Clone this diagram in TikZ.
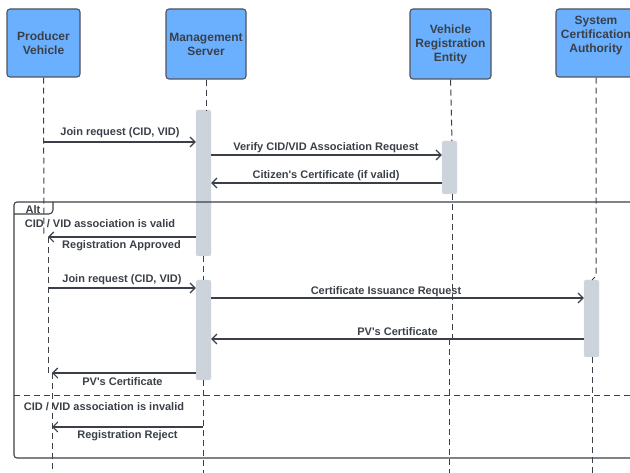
\documentclass[tikz,border=0pt]{standalone}
\usepackage{fontspec}
\setmainfont{Liberation Sans}
\usetikzlibrary{arrows.meta}
\definecolor{ink}{HTML}{3B4048}
\definecolor{actor}{HTML}{6AB0FF}
\definecolor{bar}{HTML}{CDD3DB}
\begin{document}
\begin{tikzpicture}[x=1pt,y=-1pt,
  actorbox/.style={draw=ink!90, fill=actor, rounded corners=3pt, line width=1.1pt,
    align=center, text=ink, inner sep=0pt, font=\bfseries\fontsize{12}{14}\selectfont},
  lifeline/.style={draw=ink, line width=1pt, dash pattern=on 6pt off 4pt},
  actbar/.style={fill=bar, draw=bar!70!white, rounded corners=2pt, minimum width=15pt, inner sep=0pt},
  msg/.style={draw=ink, line width=1.1pt, -{Straight Barb[length=5pt,width=10pt,line width=1.1pt]}},
  lbl/.style={text=ink, inner sep=0pt, yshift=-1.5pt, font=\bfseries\fontsize{11}{13}\selectfont},
  frame/.style={draw=ink, line width=1.1pt}]
\clip (0,0) rectangle (630,473);

% participants
\node[actorbox, minimum width=73pt, minimum height=68pt] (pv) at (43.5,43) {Producer\\Vehicle};
\node[actorbox, minimum width=80pt, minimum height=70pt] (ms) at (206,44) {Management\\Server};
\node[actorbox, minimum width=81pt, minimum height=70pt] (vre) at (450.5,44) {Vehicle\\Registration\\Entity};
\node[actorbox, minimum width=80pt, minimum height=68pt] (sca) at (596,43) {};
\node[text=ink, inner sep=0pt, align=center, font=\bfseries\fontsize{12}{14}\selectfont] (scat) at (596,36) {System\\Certification\\Authority};

% activation bars
\node[actbar, minimum height=146pt] (ms1) at (203.5,183) {};
\node[actbar, minimum height=53pt] (vre1) at (449.5,167.5) {};
\node[actbar, minimum height=100pt] (ms2) at (203.5,330) {};
\node[actbar, minimum height=77pt] (sca1) at (591.5,318.5) {};

% lifelines
\coordinate (pvl1) at (44,237);
\coordinate (pvl2) at (48,373);
\coordinate (pvl3) at (52,473);
\draw[lifeline] (pv.south) -- (pvl1);
\draw[lifeline] (48,237) -- (pvl2);
\draw[lifeline] (52,373) -- (pvl3);
\draw[lifeline] (ms.south) -- (206,110);
\draw[lifeline] (203,256) -- (203,280);
\draw[lifeline] (203,380) -- (203,473);
\draw[lifeline] (vre.south) -- (452,141);
\draw[lifeline] (452,194) -- (452,339);
\draw[lifeline] (449,339) -- (449,473);
\draw[lifeline] (sca.south) -- (596,276) -- (592,280);
\draw[lifeline] (592,357) -- (592,473);

% alt fragment
\draw[frame, rounded corners=3pt] (14,202) rectangle (640,458);
\draw[frame] (14,214) -- (49,214) to[out=0,in=-90] (53,210) -- (53,202);
\node[lbl] (alt) at (33,208) {Alt};
\draw[lifeline] (14,396) -- (640,396);
\node[lbl] (cond1) at (100,222) {CID / VID association is valid};
\node[lbl] (cond2) at (104,405) {CID / VID association is invalid};

% messages
\coordinate (m1) at (44,142);
\draw[msg] (m1) -- (m1 -| ms1.west);
\node[lbl] at (120,131) {Join request (CID, VID)};

\coordinate (m2) at (211,155);
\draw[msg] (m2) -- (m2 -| vre1.west);
\node[lbl] at (326,146) {Verify CID/VID Association Request};

\coordinate (m3) at (442,183);
\draw[msg] (m3) -- (m3 -| ms1.east);
\node[lbl] at (326,174) {Citizen\textquotesingle s Certificate (if valid)};

\coordinate (m4) at (196,237);
\draw[msg] (m4) -- (m4 -| pvl2);
\node[lbl] at (121.5,244) {Registration Approved};

\coordinate (m5) at (48,288);
\draw[msg] (m5) -- (m5 -| ms2.west);
\node[lbl] at (122,278) {Join request (CID, VID)};

\coordinate (m6) at (211,298);
\draw[msg] (m6) -- (m6 -| sca1.west);
\node[lbl] at (386,290) {Certificate Issuance Request};

\coordinate (m7) at (584,339);
\draw[msg] (m7) -- (m7 -| ms2.east);
\node[lbl] at (397.5,330) {PV\textquotesingle s Certificate};

\coordinate (m8) at (196,373);
\draw[msg] (m8) -- (m8 -| pvl3);
\node[lbl] at (122.5,380) {PV\textquotesingle s Certificate};

\coordinate (m9) at (203,427);
\draw[msg] (m9) -- (m9 -| pvl3);
\node[lbl] at (127.5,434) {Registration Reject};
\end{tikzpicture}
\end{document}
